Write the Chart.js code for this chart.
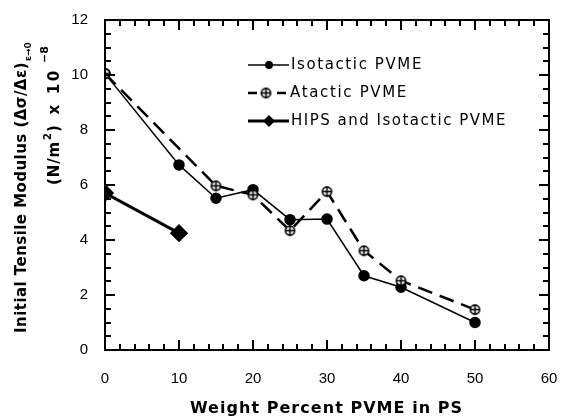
<!DOCTYPE html>
<html>
<head>
<meta charset="utf-8">
<script src="https://cdn.jsdelivr.net/npm/chart.js@4"></script>
<style>
  html, body { margin: 0; padding: 0; background: #fff; }
  #wrap { width: 561px; height: 418px; }
</style>
</head>
<body>
<div id="wrap"><canvas id="chart" width="561" height="418"></canvas></div>
<script>
// values
const xIso = [0, 10, 15, 20, 25, 30, 35, 40, 50];
const yIso = [10.05, 6.73, 5.52, 5.83, 4.74, 4.76, 2.70, 2.28, 1.0];
const xAta = [0, 15, 20, 25, 30, 35, 40, 50];
const yAta = [10.05, 5.97, 5.64, 4.34, 5.76, 3.61, 2.52, 1.47];
const xHips = [0, 10];
const yHips = [5.71, 4.25];
const xTicks = [0, 10, 20, 30, 40, 50, 60];
const yTicks = [0, 2, 4, 6, 8, 10, 12];
const seriesNames = ["Isotactic PVME", "Atactic PVME", "HIPS and Isotactic PVME"];

const pts = (xs, ys) => xs.map((x, i) => ({ x: x, y: ys[i] }));

// open circle with a cross, used for the atactic series
function makeOplus(r) {
  const c = document.createElement("canvas");
  const s = 13;
  c.width = c.height = s;
  const g = c.getContext("2d");
  const m = s / 2;
  g.fillStyle = "#fff";
  g.strokeStyle = "#000";
  g.lineWidth = 1.6;
  g.beginPath(); g.arc(m, m, r, 0, Math.PI * 2); g.fill(); g.stroke();
  g.beginPath();
  g.moveTo(m - r, m); g.lineTo(m + r, m);
  g.moveTo(m, m - r); g.lineTo(m, m + r);
  g.stroke();
  return c;
}
const oplus = makeOplus(4.6);

// spread letters so a string fills a given width
function spacedText(ctx, text, x, y, width) {
  ctx.letterSpacing = "0px";
  const w = ctx.measureText(text).width;
  const sp = Math.max(0, (width - w) / text.length);
  ctx.letterSpacing = sp + "px";
  ctx.fillText(text, x, y);
  const out = ctx.measureText(text).width;
  ctx.letterSpacing = "0px";
  return out;
}

function drawFrame(chart) {
  const { ctx, chartArea: a } = chart;
  ctx.save();
  ctx.fillStyle = "#000";
  const L = Math.round(a.left), R = Math.round(a.right);
  const T = Math.round(a.top), B = Math.round(a.bottom);
  const x0 = xTicks[0], x1 = xTicks[xTicks.length - 1];
  const y0 = yTicks[0], y1 = yTicks[yTicks.length - 1];
  // box
  ctx.fillRect(L - 1, T - 1, R - L + 2, 2);
  ctx.fillRect(L - 1, B - 1, R - L + 2, 2);
  ctx.fillRect(L - 1, T - 1, 2, B - T + 2);
  ctx.fillRect(R - 1, T - 1, 2, B - T + 2);
  // inward tick marks on all four sides
  for (let v = x0; v <= x1; v += 2) {
    const px = Math.round(L + (v - x0) / (x1 - x0) * (R - L));
    const len = v % 10 === 0 ? 10 : 6;
    ctx.fillRect(px - 1, B - len, 2, len);
    ctx.fillRect(px - 1, T, 2, len);
  }
  for (let v = y0; v <= y1; v += 0.5) {
    const py = Math.round(B - (v - y0) / (y1 - y0) * (B - T));
    const len = v % 2 === 0 ? 10 : 6;
    ctx.fillRect(L, py - 1, len, 2);
    ctx.fillRect(R - len, py - 1, len, 2);
  }
  ctx.restore();
}

function drawLegendAndTitles(chart) {
  const ctx = chart.ctx;
  ctx.save();
  ctx.fillStyle = "#000";
  ctx.strokeStyle = "#000";
  ctx.setLineDash([]);

  // legend inside the plot
  const lx = 248, rows = [65, 93, 121];
  ctx.lineWidth = 1.5;
  ctx.beginPath(); ctx.moveTo(lx, rows[0]); ctx.lineTo(lx + 41, rows[0]); ctx.stroke();
  ctx.beginPath(); ctx.arc(lx + 21, rows[0], 4, 0, Math.PI * 2); ctx.fill();

  ctx.lineWidth = 2.5;
  ctx.beginPath();
  ctx.moveTo(lx, rows[1]); ctx.lineTo(lx + 9, rows[1]);
  ctx.moveTo(lx + 29, rows[1]); ctx.lineTo(lx + 38, rows[1]);
  ctx.stroke();
  ctx.drawImage(oplus, lx + 18 - 6.5, rows[1] - 6.5);

  ctx.lineWidth = 3;
  ctx.beginPath(); ctx.moveTo(lx, rows[2]); ctx.lineTo(lx + 41, rows[2]); ctx.stroke();
  ctx.beginPath();
  ctx.moveTo(lx + 21, rows[2] - 6); ctx.lineTo(lx + 27, rows[2]);
  ctx.lineTo(lx + 21, rows[2] + 6); ctx.lineTo(lx + 15, rows[2]);
  ctx.closePath(); ctx.fill();

  ctx.font = "15px 'DejaVu Sans'";
  ctx.textBaseline = "middle";
  ctx.textAlign = "left";
  spacedText(ctx, seriesNames[0], 291, rows[0], 132);
  spacedText(ctx, seriesNames[1], 290, rows[1], 118);
  spacedText(ctx, seriesNames[2], 291, rows[2], 216);

  // x title
  ctx.font = "bold 16px 'DejaVu Sans'";
  ctx.textBaseline = "alphabetic";
  spacedText(ctx, "Weight Percent PVME in PS", 190, 413, 273);

  // y title, two rotated lines
  ctx.save();
  ctx.translate(26, 333);
  ctx.rotate(-Math.PI / 2);
  ctx.font = "bold 15px 'DejaVu Sans'";
  let w = spacedText(ctx, "Initial Tensile Modulus (Δσ/Δε)", 0, 0, 271);
  ctx.font = "bold 9px 'DejaVu Sans'";
  ctx.fillText("ε→0", w + 1, 5);
  ctx.restore();

  ctx.save();
  ctx.translate(59, 185);
  ctx.rotate(-Math.PI / 2);
  ctx.font = "bold 15px 'DejaVu Sans'";
  w = spacedText(ctx, "(N/m", 0, 0, 44);
  ctx.font = "bold 10px 'DejaVu Sans'";
  ctx.fillText("2", w + 1, -8);
  ctx.font = "bold 15px 'DejaVu Sans'";
  spacedText(ctx, ") x 10", w + 9, 0, 64);
  ctx.font = "bold 11px 'DejaVu Sans'";
  ctx.fillText("−8", 122, -11);
  ctx.restore();

  ctx.restore();
}

const framePlugin = {
  id: "frame",
  afterDraw(chart) {
    drawFrame(chart);
    drawLegendAndTitles(chart);
  }
};

new Chart(document.getElementById("chart"), {
  type: "scatter",
  data: {
    datasets: [
      {
        label: seriesNames[1],
        data: pts(xAta, yAta),
        showLine: true,
        borderColor: "#000",
        borderWidth: 2.5,
        borderDash: [15, 8],
        pointStyle: oplus,
        pointRadius: 5
      },
      {
        label: seriesNames[0],
        data: pts(xIso, yIso),
        showLine: true,
        borderColor: "#000",
        backgroundColor: "#000",
        borderWidth: 1.5,
        pointStyle: "circle",
        pointRadius: 5
      },
      {
        label: seriesNames[2],
        data: pts(xHips, yHips),
        showLine: true,
        borderColor: "#000",
        backgroundColor: "#000",
        borderWidth: 3,
        pointStyle: "rectRot",
        pointRadius: 7
      }
    ]
  },
  options: {
    responsive: false,
    animation: false,
    layout: { padding: { top: 20, right: 12, left: 0, bottom: 0 } },
    plugins: { legend: { display: false }, tooltip: { enabled: false } },
    scales: {
      x: {
        type: "linear",
        min: 0,
        max: 60,
        afterBuildTicks: (s) => { s.ticks = xTicks.map((v) => ({ value: v })); },
        afterFit: (s) => { s.height = 68; s.paddingLeft = 0; s.paddingRight = 0; },
        ticks: { color: "#000", font: { family: "'Liberation Sans'", size: 15 }, padding: 20, maxRotation: 0 },
        grid: { display: false, drawTicks: false },
        border: { display: false }
      },
      y: {
        min: 0,
        max: 12,
        afterBuildTicks: (s) => { s.ticks = yTicks.map((v) => ({ value: v })); },
        afterFit: (s) => { s.width = 105; s.paddingTop = 0; s.paddingBottom = 0; },
        ticks: { color: "#000", font: { family: "'Liberation Sans'", size: 15 }, padding: 17 },
        grid: { display: false, drawTicks: false },
        border: { display: false }
      }
    }
  },
  plugins: [framePlugin]
});
</script>
</body>
</html>
